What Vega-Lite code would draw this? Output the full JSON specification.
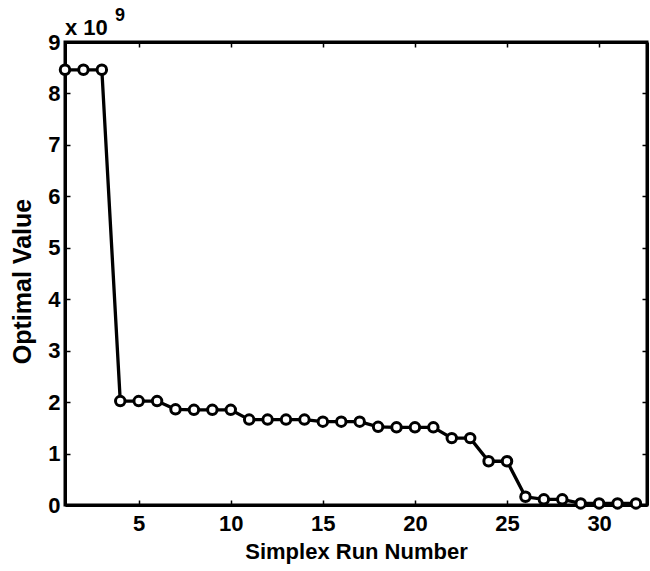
{
  "$schema": "https://vega.github.io/schema/vega-lite/v6.json",
  "autosize": "none",
  "width": 582,
  "height": 463,
  "padding": {"left": 65, "top": 42, "right": 3, "bottom": 66},
  "background": "white",
  "config": {
    "font": "Liberation Sans",
    "view": {"stroke": "black", "strokeWidth": 3},
    "axis": {"titleColor": "#000000", "labelColor": "#000000", "tickColor": "#000000", "domainColor": "#000000"}
  },
  "title": {
    "text": "\u200b\u00a0\u00a0\u00a0\u00a0\u00a0\u00a0\u00a0\u00a0\u00a0\u00a09",
    "subtitle": "x 10",
    "anchor": "start",
    "frame": "group",
    "fontSize": 18,
    "fontWeight": "bold",
    "font": "Liberation Sans",
    "color": "black",
    "subtitleFontSize": 22,
    "subtitleFontWeight": "bold",
    "subtitleFont": "Liberation Sans",
    "subtitleColor": "black",
    "subtitlePadding": -7,
    "offset": -8
  },
  "data": {
    "values": [
      {"run": 1, "value": 8.46},
      {"run": 2, "value": 8.46},
      {"run": 3, "value": 8.46},
      {"run": 4, "value": 2.02},
      {"run": 5, "value": 2.02},
      {"run": 6, "value": 2.02},
      {"run": 7, "value": 1.86},
      {"run": 8, "value": 1.85},
      {"run": 9, "value": 1.85},
      {"run": 10, "value": 1.85},
      {"run": 11, "value": 1.66},
      {"run": 12, "value": 1.66},
      {"run": 13, "value": 1.66},
      {"run": 14, "value": 1.66},
      {"run": 15, "value": 1.62},
      {"run": 16, "value": 1.62},
      {"run": 17, "value": 1.62},
      {"run": 18, "value": 1.52},
      {"run": 19, "value": 1.51},
      {"run": 20, "value": 1.51},
      {"run": 21, "value": 1.51},
      {"run": 22, "value": 1.3},
      {"run": 23, "value": 1.3},
      {"run": 24, "value": 0.85},
      {"run": 25, "value": 0.85},
      {"run": 26, "value": 0.16},
      {"run": 27, "value": 0.11},
      {"run": 28, "value": 0.11},
      {"run": 29, "value": 0.03},
      {"run": 30, "value": 0.03},
      {"run": 31, "value": 0.03},
      {"run": 32, "value": 0.03}
    ]
  },
  "layer": [
    {
      "mark": {"type": "line", "color": "black", "strokeWidth": 3.3},
      "encoding": {
        "x": {
          "field": "run", "type": "quantitative",
          "scale": {"domain": [1, 32.6], "nice": false, "zero": false},
          "axis": {
            "title": "Simplex Run Number",
            "titleFontSize": 22, "titleFontWeight": "bold", "titlePadding": 7,
            "values": [5, 10, 15, 20, 25, 30],
            "labelFontSize": 22, "labelFontWeight": "bold",
            "labelPadding": 13, "labelFlush": false,
            "tickSize": -5, "tickWidth": 1.5,
            "domainWidth": 3,
            "grid": false
          }
        },
        "y": {
          "field": "value", "type": "quantitative",
          "scale": {"domain": [0, 9], "nice": false},
          "axis": {
            "title": "Optimal Value",
            "titleFontSize": 25, "titleFontWeight": "bold",
            "titleX": -30, "titleY": 239,
            "values": [0, 1, 2, 3, 4, 5, 6, 7, 8, 9],
            "labelFontSize": 22, "labelFontWeight": "bold",
            "labelPadding": 10, "labelFlush": false,
            "tickSize": -5, "tickWidth": 1.5,
            "domainWidth": 3,
            "grid": false
          }
        }
      }
    },
    {
      "mark": {"type": "point", "shape": "circle", "filled": false, "fill": "white", "stroke": "black", "strokeWidth": 3, "size": 90, "opacity": 1},
      "encoding": {
        "x": {
          "field": "run", "type": "quantitative",
          "scale": {"domain": [1, 32.6], "nice": false, "zero": false},
          "axis": {
            "orient": "top", "title": null, "labels": false,
            "values": [5, 10, 15, 20, 25, 30],
            "tickSize": -5, "tickWidth": 1.5,
            "domainWidth": 3, "grid": false
          }
        },
        "y": {
          "field": "value", "type": "quantitative",
          "scale": {"domain": [0, 9], "nice": false},
          "axis": {
            "orient": "right", "title": null, "labels": false,
            "values": [0, 1, 2, 3, 4, 5, 6, 7, 8, 9],
            "tickSize": -5, "tickWidth": 1.5,
            "domainWidth": 3, "grid": false
          }
        }
      }
    }
  ],
  "resolve": {"scale": {"x": "independent", "y": "independent"}, "axis": {"x": "independent", "y": "independent"}}
}
